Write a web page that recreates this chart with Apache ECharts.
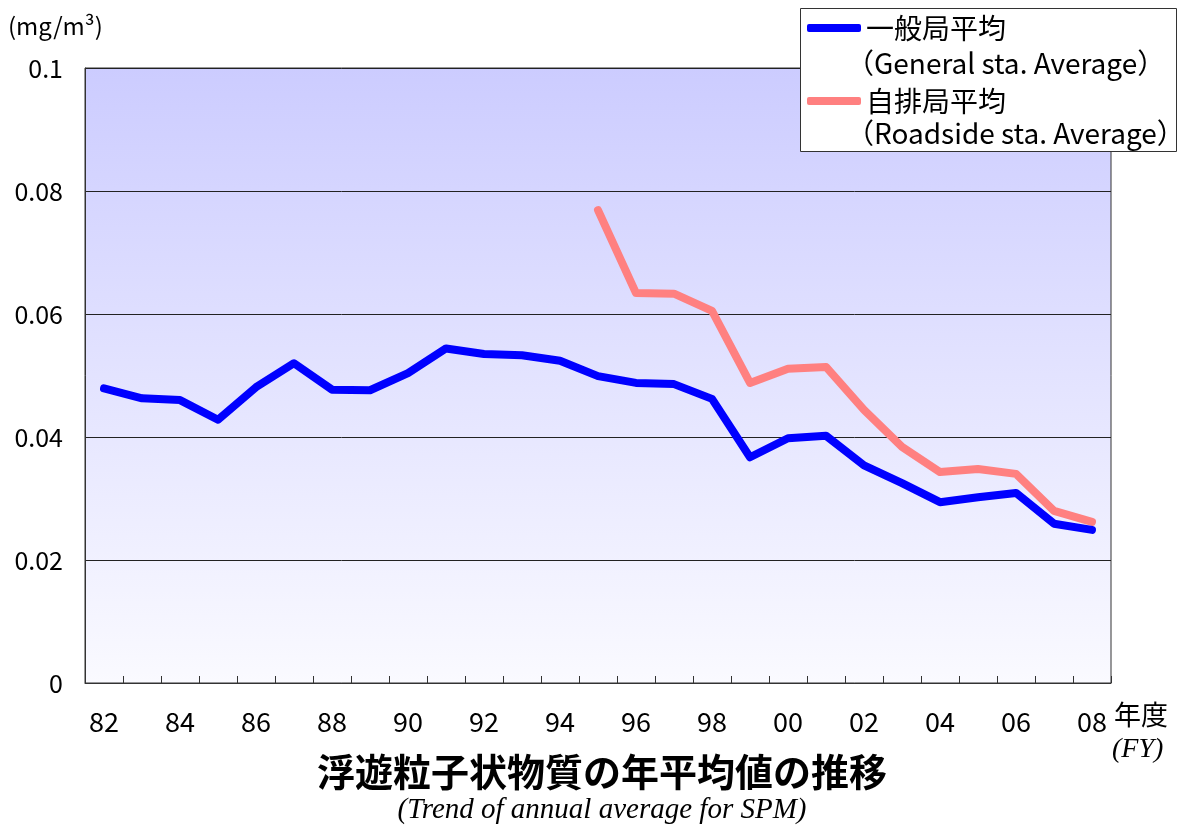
<!DOCTYPE html>
<html><head><meta charset="utf-8">
<script src="https://cdn.jsdelivr.net/npm/echarts@6/dist/echarts.min.js"></script>
<style>html,body{margin:0;padding:0;background:#fff;}#c{width:1178px;height:825px;}</style>
</head><body><div id="c"></div>
<script>
const years = ['82','83','84','85','86','87','88','89','90','91','92','93','94','95','96','97','98','99','00','01','02','03','04','05','06','07','08'];
const generalAvg = [0.0479,0.0463,0.0460,0.0428,0.0481,0.0520,0.0477,0.0476,0.0504,0.0544,0.0535,0.0533,0.0524,0.0499,0.0488,0.0486,0.0462,0.0367,0.0398,0.0402,0.0354,0.0325,0.0294,0.0302,0.0309,0.0259,0.0249];
const roadsideAvg = [null,null,null,null,null,null,null,null,null,null,null,null,null,0.0769,0.0634,0.0633,0.0605,0.0488,0.0511,0.0514,0.0444,0.0384,0.0343,0.0348,0.0340,0.0280,0.0262];
const seriesNames = ['一般局平均','自排局平均'];
const seriesNamesEn = ['（General sta. Average）','（Roadside sta. Average）'];
const yTicks = {min:0, max:0.1, interval:0.02};

const jp = '"Noto Sans CJK JP", sans-serif';
const chart = echarts.init(document.getElementById('c'));
chart.setOption({
  animation:false,
  backgroundColor:'#fff',
  title:{
    text:'浮遊粒子状物質の年平均値の推移',
    subtext:'(Trend of annual average for SPM)',
    left:597, top:748, textAlign:'center', itemGap:5,
    textStyle:{fontFamily:jp, fontSize:38, fontWeight:'bold', color:'#000'},
    subtextStyle:{fontFamily:'"Liberation Serif", serif', fontStyle:'italic', fontSize:29, color:'#000'}
  },
  grid:{left:85, right:67, top:68, bottom:142, show:true,
    borderColor:'#333', borderWidth:1,
    backgroundColor:new echarts.graphic.LinearGradient(0,0,0,1,[{offset:0,color:'#ccccff'},{offset:1,color:'#fafaff'}])},
  legend:{
    orient:'vertical', left:802, top:9, itemGap:45, z:20,
    itemWidth:54, itemHeight:8, icon:'roundRect',
    data:seriesNames,
    textStyle:{fontFamily:jp, fontSize:28, color:'#000'}
  },
  xAxis:{type:'category', data:years, boundaryGap:true,
    axisLine:{lineStyle:{color:'#333', width:1}},
    axisTick:{show:true, inside:true, length:7, interval:0, lineStyle:{color:'#333'}},
    axisLabel:{interval:1, margin:25, fontFamily:jp, fontSize:27, color:'#000'},
    splitLine:{show:false}},
  yAxis:{type:'value', min:yTicks.min, max:yTicks.max, interval:yTicks.interval,
    axisLine:{show:true, lineStyle:{color:'#333'}},
    axisTick:{show:false},
    axisLabel:{margin:22, fontFamily:jp, fontSize:25, color:'#000'},
    splitLine:{show:true, lineStyle:{color:'#222', width:1}}},
  series:[
    {name:seriesNames[0], type:'line', data:generalAvg, showSymbol:false, symbol:'none',
     lineStyle:{color:'#0000ff', width:8, cap:'round', join:'round'}, itemStyle:{color:'#0000ff'}, z:3},
    {name:seriesNames[1], type:'line', data:roadsideAvg, showSymbol:false, symbol:'none', connectNulls:false,
     lineStyle:{color:'#ff8080', width:8, cap:'round', join:'round'}, itemStyle:{color:'#ff8080'}, z:2}
  ],
  graphic:[
    {type:'rect', z:10, shape:{x:800.5, y:8.5, width:376, height:143}, style:{fill:'#fff', stroke:'#333', lineWidth:1}},
    {type:'text', z:20, left:846, top:49, style:{text:seriesNamesEn[0], font:'28px "Noto Sans CJK JP", sans-serif', fill:'#000'}},
    {type:'text', z:20, left:846, top:119, style:{text:seriesNamesEn[1], font:'28px "Noto Sans CJK JP", sans-serif', fill:'#000'}},
    {type:'text', left:8, top:14, style:{text:'(mg/m³)', font:'24px "Noto Sans CJK JP", sans-serif', fill:'#000'}},
    {type:'text', left:1114, top:701, style:{text:'年度', font:'27px "Noto Sans CJK JP", sans-serif', fill:'#000'}},
    {type:'text', left:1112, top:736, style:{text:'(FY)', font:'italic 28px "Liberation Serif", serif', fill:'#000'}}
  ]
});
</script></body></html>
